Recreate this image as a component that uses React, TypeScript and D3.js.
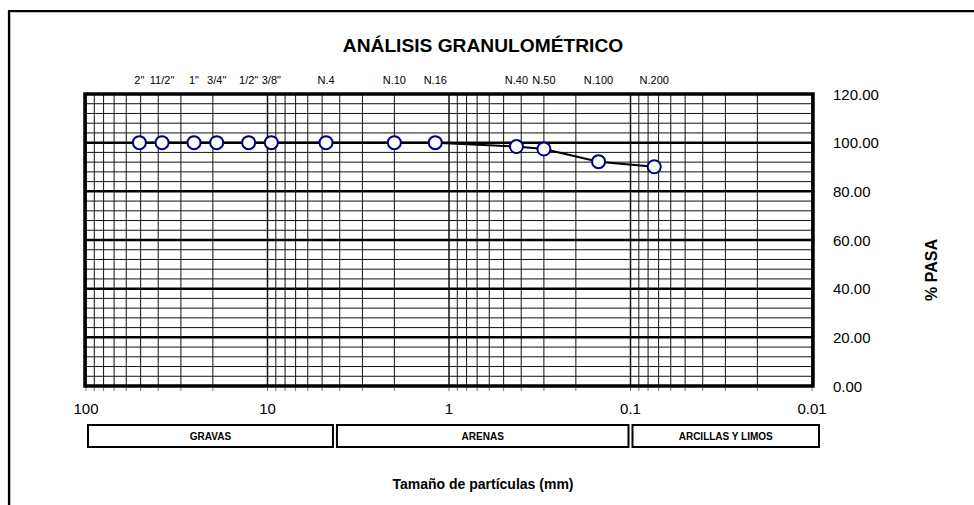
import React from "react";
import * as d3 from "d3";

const sieveLabels = ['2"', '11/2"', '1"', '3/4"', '1/2"', '3/8"', "N.4", "N.10", "N.16", "N.40", "N.50", "N.100", "N.200"];
const sieveSizes = [50.8, 38.1, 25.4, 19.05, 12.7, 9.525, 4.76, 2.0, 1.19, 0.425, 0.3, 0.15, 0.074];
const percentPassing = [100, 100, 100, 100, 100, 100, 100, 100, 100, 98.4, 97.4, 92.2, 90.1];
const xTickValues = [100, 10, 1, 0.1, 0.01];
const yTickValues = [0, 20, 40, 60, 80, 100, 120];
const zoneNames = ["GRAVAS", "ARENAS", "ARCILLAS Y LIMOS"];
const zoneBounds = [100, 4.25, 0.1, 0.01];

const W = 974;
const H = 505;
const left = 86;
const right = 812;
const top = 94;
const bottom = 386;

export default function App() {
  const x = d3.scaleLog().domain([100, 0.01]).range([left, right]);
  const y = d3.scaleLinear().domain([0, 120]).range([bottom, top]);

  const vGrid: number[] = [];
  [10, 1, 0.1, 0.01].forEach((d) => {
    for (let k = 1; k <= 9; k++) vGrid.push(k * d);
  });
  vGrid.push(100);
  const hMinor = d3.range(0, 121, 4).filter((v) => v % 20 !== 0);
  const hMajor = d3.range(20, 120, 20);

  const line = d3
    .line<number>()
    .x((_, i) => x(sieveSizes[i]))
    .y((v) => y(v));

  const font = "Arial, 'Liberation Sans', sans-serif";

  return (
    <svg width={W} height={H} style={{ position: "absolute", left: 0, top: 0, background: "#fff" }} fontFamily={font}>
      {/* outer frame */}
      <path d={`M9,${H + 2} L9,11 L${W + 2},11`} fill="none" stroke="#000" strokeWidth={2.2} />
      <path d={`M10.5,${H + 2} L10.5,12.5 L${W + 2},12.5`} fill="none" stroke="#aaa" strokeWidth={0.8} />

      <text x={483} y={52} textAnchor="middle" fontSize={19.2} fontWeight="bold">
        ANÁLISIS GRANULOMÉTRICO
      </text>

      {sieveLabels.map((s, i) => (
        <text key={s} x={x(sieveSizes[i])} y={84} textAnchor="middle" fontSize={11}>
          {s}
        </text>
      ))}

      {/* grid */}
      {hMinor.map((v) => (
        <line key={"hm" + v} x1={left} x2={right} y1={y(v)} y2={y(v)} stroke="#111" strokeWidth={1} />
      ))}
      {vGrid.map((v) => (
        <line
          key={"v" + v}
          x1={x(v)}
          x2={x(v)}
          y1={top}
          y2={bottom}
          stroke="#111"
          strokeWidth={xTickValues.includes(v) ? 1.5 : 1}
        />
      ))}
      {vGrid.map((v) => (
        <line key={"t" + v} x1={x(v)} x2={x(v)} y1={bottom} y2={bottom + 5} stroke="#777" strokeWidth={1} />
      ))}
      {hMajor.map((v) => (
        <line key={"hM" + v} x1={left} x2={right} y1={y(v)} y2={y(v)} stroke="#000" strokeWidth={2.5} />
      ))}
      <rect x={left - 1} y={top} width={right - left + 2} height={bottom - top} fill="none" stroke="#000" strokeWidth={3.5} />

      {/* data */}
      <path d={line(percentPassing) || ""} fill="none" stroke="#000" strokeWidth={2} />
      {percentPassing.map((v, i) => (
        <circle key={i} cx={x(sieveSizes[i])} cy={y(v)} r={6.5} fill="#fff" stroke="#000080" strokeWidth={2} />
      ))}

      {/* x tick labels */}
      {xTickValues.map((v) => (
        <text key={"xl" + v} x={x(v)} y={414} textAnchor="middle" fontSize={15}>
          {String(v)}
        </text>
      ))}
      {/* y tick labels */}
      {yTickValues.map((v) => (
        <text key={"yl" + v} x={833} y={y(v) + 5.5} textAnchor="start" fontSize={15}>
          {v.toFixed(2)}
        </text>
      ))}
      <text transform={`translate(937, 270) rotate(-90)`} textAnchor="middle" fontSize={16} fontWeight="bold">
        % PASA
      </text>

      {/* zones */}
      {zoneNames.map((name, i) => {
        const x0 = i === 0 ? 88 : x(zoneBounds[i]) + 2;
        const x1 = i === zoneNames.length - 1 ? 819 : x(zoneBounds[i + 1]) - 2;
        return (
          <g key={name}>
            <rect x={x0} y={425} width={x1 - x0} height={22} fill="#fff" stroke="#000" strokeWidth={2} />
            <text x={(x0 + x1) / 2} y={440} textAnchor="middle" fontSize={10} fontWeight="bold">
              {name}
            </text>
          </g>
        );
      })}

      <text x={483} y={489} textAnchor="middle" fontSize={14} fontWeight="bold">
        Tamaño de partículas (mm)
      </text>
    </svg>
  );
}
